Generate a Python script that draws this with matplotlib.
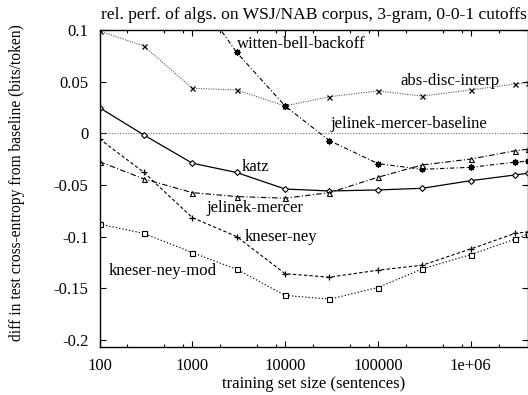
import matplotlib
matplotlib.use('Agg')
import matplotlib.pyplot as plt
from matplotlib.ticker import LogLocator, FixedLocator, FixedFormatter, NullFormatter

plt.rcParams['font.family'] = ['Liberation Serif', 'DejaVu Serif']
plt.rcParams['font.size'] = 12

# training set sizes (sentences); last point sits on the right border
sizes = [100, 300, 1000, 3000, 10000, 30000, 100000, 300000, 1000000, 3000000, 4100000]
sizes_wb = sizes[2:]

abs_disc = [0.099, 0.0845, 0.0435, 0.042, 0.0264, 0.0354, 0.041, 0.036, 0.042, 0.0477, 0.049]
witten_bell = [0.139, 0.0784, 0.0264, -0.0071, -0.0294, -0.0349, -0.033, -0.028, -0.027]
katz = [0.0248, -0.0016, -0.029, -0.038, -0.054, -0.0559, -0.0549, -0.0533, -0.0459, -0.0404, -0.0387]
jelinek = [-0.0275, -0.0442, -0.0575, -0.0613, -0.0629, -0.0575, -0.0426, -0.0307, -0.025, -0.017, -0.0155]
kneser = [-0.0055, -0.0378, -0.0817, -0.100, -0.136, -0.1394, -0.1326, -0.1278, -0.112, -0.097, -0.0955]
kneser_mod = [-0.088, -0.097, -0.1156, -0.1317, -0.157, -0.1607, -0.1494, -0.1314, -0.1175, -0.1026, -0.0975]
baseline = 0.0

xticks = [100, 1000, 10000, 100000, 1000000]
xticklabels = ['100', '1000', '10000', '100000', '1e+06']
yticks = [-0.2, -0.15, -0.1, -0.05, 0, 0.05, 0.1]
yticklabels = ['-0.2', '-0.15', '-0.1', '-0.05', '0', '0.05', '0.1']

# label text, x, y (data coords, left edge / vertical centre)
labels = [
    ('witten-bell-backoff', 3000, 0.0864),
    ('abs-disc-interp', 173000, 0.0505),
    ('jelinek-mercer-baseline', 30500, 0.0085),
    ('katz', 3400, -0.0323),
    ('jelinek-mercer', 1430, -0.0726),
    ('kneser-ney', 3700, -0.100),
    ('kneser-ney-mod', 124, -0.1333),
]

fig = plt.figure(figsize=(5.28, 3.95), dpi=100)
ax = fig.add_axes([99.5 / 528, 48 / 395, 428.5 / 528, 317 / 395])

lw = 0.8
ms = 3.6
ax.axhline(baseline, color='#666666', lw=lw, ls=(0, (1, 1.5)))
ax.plot(sizes, abs_disc, color='#555555', lw=lw, ls=(0, (1, 1.2)),
        marker='x', ms=ms, mew=0.9, mec='black')
ax.plot(sizes_wb, witten_bell, color='black', lw=lw, ls=(0, (4, 2, 1, 2)),
        marker=(8, 2, 0), ms=ms + 1, mew=0.9)
ax.plot(sizes, katz, color='black', lw=0.9, ls='-',
        marker='D', ms=3, mfc='white', mew=0.8)
ax.plot(sizes, jelinek, color='black', lw=lw, ls=(0, (5, 2, 1, 2)),
        marker='^', ms=ms, mfc='white', mew=0.8)
ax.plot(sizes, kneser, color='black', lw=lw, ls=(0, (3, 2)),
        marker='+', ms=ms + 1, mew=0.9)
ax.plot(sizes, kneser_mod, color='black', lw=lw, ls=(0, (1.2, 1.8)),
        marker='s', ms=ms, mfc='white', mew=0.8)

for txt, x, y in labels:
    ax.text(x, y, txt, ha='left', va='center', fontsize=12)

ax.set_xscale('log')
ax.set_xlim(100, 4.14e6)
ax.set_ylim(-0.207, 0.1)

ax.xaxis.set_major_locator(FixedLocator(xticks))
ax.xaxis.set_major_formatter(FixedFormatter(xticklabels))
ax.xaxis.set_minor_locator(LogLocator(base=10, subs=[2, 5, 8]))
ax.xaxis.set_minor_formatter(NullFormatter())
ax.yaxis.set_major_locator(FixedLocator(yticks))
ax.yaxis.set_major_formatter(FixedFormatter(yticklabels))

ax.tick_params(which='both', direction='in', top=True, right=True, width=0.8)
ax.tick_params(which='major', length=4.3, pad=8, labelsize=12)
ax.tick_params(which='minor', length=2.2)
for s in ax.spines.values():
    s.set_linewidth(1.0)

ax.set_title('rel. perf. of algs. on WSJ/NAB corpus, 3-gram, 0-0-1 cutoffs',
             fontsize=12.6, pad=8)
ax.set_xlabel('training set size (sentences)', fontsize=12, labelpad=1)
ax.set_ylabel('diff in test cross-entropy from baseline (bits/token)', fontsize=11.2)
ax.yaxis.set_label_coords(-0.175, 0.517)

fig.savefig('out.png', dpi=100)
plt.close()
